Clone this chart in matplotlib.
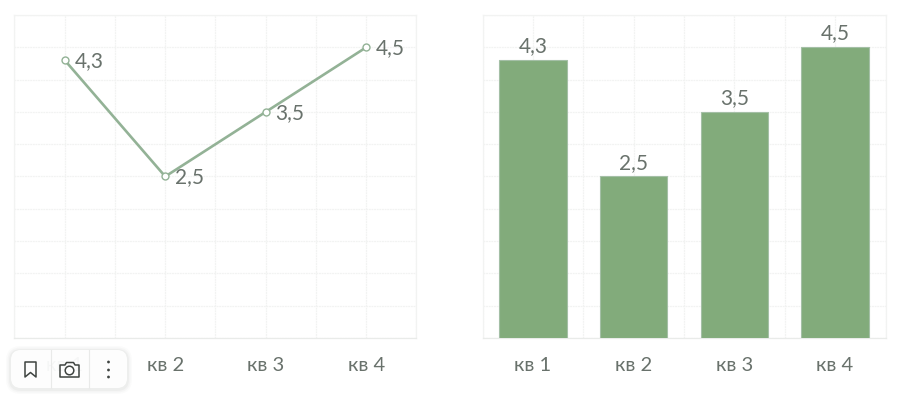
import matplotlib
matplotlib.use("Agg")
import matplotlib.pyplot as plt
from matplotlib.patches import FancyBboxPatch, Polygon, Circle
from matplotlib.ticker import MultipleLocator

# data
quarters = ["кв 1", "кв 2", "кв 3", "кв 4"]
values = [4.3, 2.5, 3.5, 4.5]
value_labels = ["4,3", "2,5", "3,5", "4,5"]

GREEN = "#82ab7b"
LINE = "#93b296"
TEXT = "#69726c"
GRID = "#f2f3f2"

W, H = 906, 400
plt.rcParams["font.family"] = ["Lato", "DejaVu Sans"]
fig = plt.figure(figsize=(W / 100, H / 100), dpi=100)


def make_axes(x0, x1, y0, y1):
    ax = fig.add_axes([x0 / W, 1 - y1 / H, (x1 - x0) / W, (y1 - y0) / H])
    ax.set_xlim(-0.5, 3.5)
    ax.set_ylim(0, 5)
    ax.xaxis.set_major_locator(MultipleLocator(0.5))
    ax.yaxis.set_major_locator(MultipleLocator(0.5))
    ax.grid(True, color=GRID, lw=0.9, ls=(0, (1.5, 0.6)))
    ax.set_axisbelow(True)
    for s in ax.spines.values():
        s.set_color(GRID)
        s.set_linewidth(0.9)
    ax.spines["bottom"].set_color("#e9ebe9")
    ax.tick_params(length=0, labelleft=False, labelbottom=False)
    for i, q in enumerate(quarters):
        ax.annotate(q, (i, 0), xytext=(0, -19.5), textcoords="offset points", ha="center",
                    va="center", fontsize=14.5, color=TEXT)
    return ax


# line chart
ax1 = make_axes(14.5, 416.5, 15, 338)
xs = range(len(values))
ax1.plot(xs, values, color=LINE, lw=1.9, marker="o", ms=5, mfc="white", mec=LINE, mew=1.0,
         clip_on=False, zorder=3)
for i, v in enumerate(values):
    ax1.annotate(value_labels[i], (i, v), xytext=(7, -0.5), textcoords="offset points",
                 ha="left", va="center", fontsize=15, color=TEXT)

# bar chart
ax2 = make_axes(482.5, 885.5, 15, 338)
ax2.bar(xs, values, width=0.67, color=GREEN, edgecolor="#a4bfa6", lw=0.8, zorder=3)
for i, v in enumerate(values):
    ax2.annotate(value_labels[i], (i, v), xytext=(0, 10), textcoords="offset points",
                 ha="center", va="center", fontsize=15, color=TEXT)

# floating toolbar over the first axis label, in pixel coordinates
ov = fig.add_axes([0, 0, 1, 1], zorder=10)
ov.set_xlim(0, W)
ov.set_ylim(H, 0)
ov.axis("off")
ov.patch.set_alpha(0)
for grow, alpha in [(5, 0.03), (3.5, 0.05), (2, 0.07)]:
    ov.add_patch(FancyBboxPatch((11 - grow, 351 - grow), 116 + 2 * grow, 38 + 2 * grow,
                                boxstyle=f"round,pad=0,rounding_size={10 + grow}", lw=0,
                                fc="#8c978f", alpha=alpha))
ov.add_patch(FancyBboxPatch((11, 350), 116, 38, boxstyle="round,pad=0,rounding_size=10", lw=0,
                            fc="white", alpha=0.94))
for x in (50.5, 88.5):
    ov.plot([x, x], [350, 388], color="#e9eae9", lw=0.8)
ICON = "#3f4441"
ov.add_patch(Polygon([(25, 362), (36, 362), (36, 377), (30.5, 372.5), (25, 377)], closed=True, fc="none",
                     ec=ICON, lw=1.1, joinstyle="round"))
ov.add_patch(Polygon([(60, 365), (65, 365), (66.5, 362.5), (73.5, 362.5), (75, 365), (79, 365),
                      (79, 377), (60, 377)], closed=True, fc="none", ec=ICON, lw=1.1, joinstyle="round"))
ov.add_patch(Circle((69.5, 370.5), 4.3, fc="white", ec=ICON, lw=1.1))
for y in (362, 370, 377):
    ov.add_patch(Circle((108.5, y), 1.4, fc=ICON, lw=0))

fig.savefig("out.png", dpi=100)
